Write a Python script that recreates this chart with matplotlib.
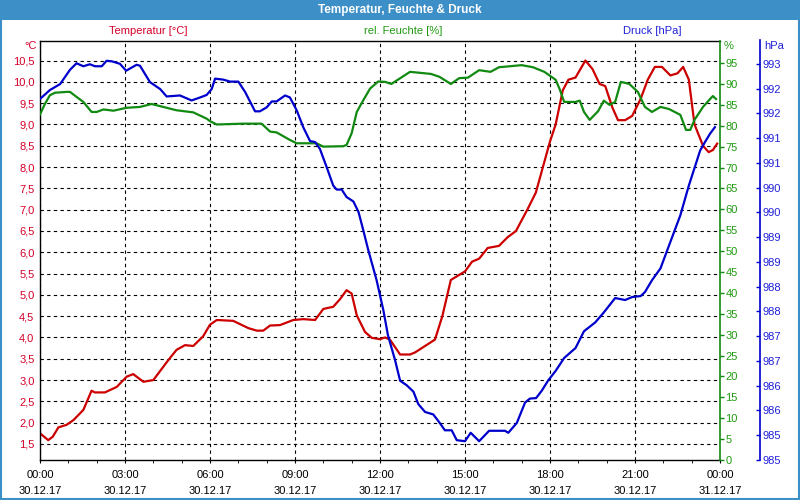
import matplotlib.pyplot as plt
from matplotlib.patches import Rectangle
from matplotlib.ticker import FixedLocator, MultipleLocator

plt.rcParams['font.family'] = ['Liberation Sans', 'DejaVu Sans']
plt.rcParams['font.size'] = 8

# --- data (hours since 30.12.17 00:00) ---
temp_hours = [0, 0.29, 0.45, 0.65, 0.94, 1.18, 1.53, 1.82, 1.94, 2.29, 2.71, 3.06, 3.29, 3.65, 4.0,
              4.53, 4.82, 5.12, 5.41, 5.76, 6.0, 6.24, 6.82, 7.35, 7.65, 7.88, 8.12, 8.47, 8.94, 9.29,
              9.71, 10.0, 10.35, 10.59, 10.82, 11.0, 11.18, 11.47, 11.71, 12.0, 12.18, 12.35, 12.71,
              13.06, 13.24, 13.59, 13.94, 14.2, 14.5, 14.75, 15.0, 15.25, 15.5, 15.8, 16.2, 16.5, 16.8,
              17.2, 17.5, 17.75, 18.0, 18.2, 18.45, 18.65, 18.9, 19.25, 19.5, 19.75, 19.95, 20.2, 20.4,
              20.65, 20.9, 21.2, 21.45, 21.7, 21.95, 22.25, 22.5, 22.7, 22.9, 23.1, 23.4, 23.6, 23.75, 23.9]
temperature = [1.75, 1.59, 1.67, 1.89, 1.95, 2.06, 2.30, 2.75, 2.71, 2.71, 2.84, 3.08, 3.14, 2.96, 3.00,
               3.47, 3.71, 3.82, 3.80, 4.03, 4.30, 4.41, 4.39, 4.22, 4.16, 4.16, 4.28, 4.29, 4.41, 4.43,
               4.41, 4.67, 4.72, 4.90, 5.11, 5.03, 4.52, 4.13, 3.99, 3.96, 4.0, 3.95, 3.6,
               3.6, 3.65, 3.8, 3.95, 4.5, 5.35, 5.45, 5.55, 5.78, 5.85, 6.1, 6.15, 6.35, 6.5,
               7.0, 7.4, 8.0, 8.6, 9.0, 9.8, 10.05, 10.1, 10.5, 10.3, 9.95, 9.9, 9.4, 9.1,
               9.1, 9.2, 9.6, 10.05, 10.35, 10.35, 10.15, 10.2, 10.35, 10.05, 9.0, 8.5, 8.35, 8.4, 8.55]

hum_hours = [0, 0.18, 0.35, 0.53, 0.94, 1.06, 1.29, 1.53, 1.82, 2.0, 2.24, 2.59, 3.06, 3.53, 3.94, 4.35,
             4.82, 5.41, 5.88, 6.0, 6.24, 7.18, 7.82, 8.12, 8.35, 8.82, 9.06, 9.76, 10.0, 10.7, 10.82,
             11.0, 11.18, 11.41, 11.65, 11.94, 12.18, 12.4, 13.06, 13.8, 14.1, 14.5, 14.8, 15.1, 15.5,
             15.9, 16.2, 17.0, 17.4, 17.8, 18.2, 18.35, 18.5, 18.9, 19.05, 19.2, 19.4, 19.7, 19.9, 20.1,
             20.3, 20.5, 20.8, 21.1, 21.35, 21.6, 21.9, 22.2, 22.6, 22.8, 22.95, 23.1, 23.4, 23.65, 23.75, 23.86]
humidity = [82.7, 85.3, 87.3, 87.9, 88.1, 88.1, 86.9, 85.7, 83.3, 83.3, 83.9, 83.6, 84.3, 84.5, 85.2, 84.5,
            83.7, 83.2, 81.7, 81.1, 80.3, 80.5, 80.5, 78.6, 78.4, 76.6, 75.8, 75.8, 75.0, 75.1, 75.4,
            78.2, 83.3, 86.1, 88.9, 90.6, 90.5, 90.0, 92.9, 92.4, 91.7, 90.0, 91.4, 91.5, 93.3,
            92.9, 94.0, 94.5, 94.0, 92.9, 91.0, 88.6, 85.7, 85.7, 86.0, 83.3, 81.4, 83.5, 86.0, 85.0,
            85.7, 90.5, 90.0, 88.1, 84.5, 83.3, 84.5, 84.0, 82.6, 79.0, 79.0, 81.4, 84.5, 86.4, 87.1, 86.4]

pres_hours = [0, 0.35, 0.71, 1.06, 1.29, 1.53, 1.76, 1.94, 2.18, 2.35, 2.53, 2.82, 3.04, 3.41, 3.53, 3.88,
              4.24, 4.47, 4.94, 5.35, 5.65, 5.88, 6.06, 6.18, 6.47, 6.71, 7.0, 7.24, 7.59, 7.76, 8.0,
              8.18, 8.35, 8.65, 8.82, 9.06, 9.29, 9.53, 9.71, 9.88, 10.12, 10.35, 10.47, 10.65, 10.82,
              11.06, 11.24, 11.41, 11.59, 11.88, 12.12, 12.28, 12.53, 12.71, 12.94, 13.18, 13.35, 13.59,
              13.88, 14.12, 14.29, 14.53, 14.71, 15.0, 15.2, 15.5, 15.85, 16.41, 16.53, 16.83, 17.12,
              17.29, 17.51, 17.71, 17.94, 18.2, 18.5, 18.9, 19.2, 19.6, 19.9, 20.3, 20.65, 20.9, 21.2,
              21.35, 21.6, 21.9, 22.2, 22.6, 22.9, 23.3, 23.47, 23.65, 23.82]
pressure = [991.89, 992.07, 992.19, 992.48, 992.61, 992.55, 992.59, 992.55, 992.55, 992.66, 992.65, 992.6,
            992.46, 992.58, 992.56, 992.23, 992.09, 991.94, 991.96, 991.86, 991.92, 991.97, 992.09, 992.3,
            992.28, 992.24, 992.24, 992.03, 991.64, 991.64, 991.72, 991.84, 991.84, 991.96, 991.92, 991.66,
            991.32, 991.04, 991.02, 990.88, 990.51, 990.14, 990.06, 990.06, 989.91, 989.82, 989.61, 989.24,
            988.83, 988.23, 987.62, 987.12, 986.62, 986.2, 986.11, 985.98, 985.73, 985.57, 985.52, 985.34,
            985.2, 985.2, 985.0, 984.98, 985.15, 984.98, 985.19, 985.19, 985.15, 985.35, 985.76, 985.84,
            985.85, 986.0, 986.21, 986.4, 986.66, 986.86, 987.2, 987.38, 987.58, 987.87, 987.83, 987.89,
            987.91, 987.99, 988.23, 988.47, 988.93, 989.54, 990.14, 990.85, 991.02, 991.19, 991.32]

x_ticks = [0, 3, 6, 9, 12, 15, 18, 21, 24]
x_labels = ['00:00\n30.12.17', '03:00\n30.12.17', '06:00\n30.12.17', '09:00\n30.12.17',
            '12:00\n30.12.17', '15:00\n30.12.17', '18:00\n30.12.17', '21:00\n30.12.17',
            '00:00\n31.12.17']
temp_ticks = [1.5 + 0.5 * i for i in range(19)]
temp_labels = ['%.1f' % t for t in temp_ticks]
temp_labels = [s.replace('.', ',') for s in temp_labels]
hum_ticks = list(range(0, 100, 5))
pres_ticks = [984.6 + 0.5 * i for i in range(17)]
pres_labels = ['985', '985', '986', '986', '987', '987', '988', '988', '989',
               '989', '990', '990', '991', '991', '992', '992', '993']

RED = '#cc0000'
RED_TXT = '#d4002a'
GREEN = '#118a11'
GREEN_TXT = '#1f9a10'
BLUE = '#0000cc'
BLUE_TXT = '#2020d8'
FRAME = '#3d8fc8'

fig = plt.figure(figsize=(8, 5), dpi=100)
fig.patch.set_facecolor('white')

ax = fig.add_axes([0.05, 0.08, 0.85, 0.839])
ax_h = ax.twinx()
ax_p = ax.twinx()

# grid and temperature axis
ax.set_xlim(0, 24)
ax.set_ylim(1.124, 10.97)
ax.xaxis.set_major_locator(FixedLocator(x_ticks))
ax.xaxis.set_minor_locator(MultipleLocator(1))
ax.set_xticklabels(x_labels, linespacing=1.75)
ax.tick_params(axis='x', which='both', length=2.5, color='black', labelsize=8, pad=4.5)
ax.yaxis.set_major_locator(FixedLocator(temp_ticks))
ax.set_yticklabels(temp_labels)
ax.tick_params(axis='y', length=0, labelcolor=RED_TXT, labelsize=8, pad=4)
ax.grid(True, which='major', color='black', linestyle=(0, (3, 3)), linewidth=0.8)
for s in ['left', 'top', 'bottom']:
    ax.spines[s].set_color('black')
    ax.spines[s].set_linewidth(1.0)
ax.spines['right'].set_visible(False)

# humidity axis
ax_h.set_ylim(0, 100.4)
ax_h.yaxis.set_major_locator(FixedLocator(hum_ticks))
ax_h.tick_params(axis='y', length=3, width=1, color=GREEN, labelcolor=GREEN_TXT, labelsize=8, pad=1)
ax_h.spines['right'].set_color(GREEN)
ax_h.spines['right'].set_linewidth(1.2)
for s in ['left', 'top', 'bottom']:
    ax_h.spines[s].set_visible(False)

# pressure axis
ax_p.set_ylim(984.6, 993.07)
ax_p.spines['right'].set_position(('axes', 720 / 680))
ax_p.spines['right'].set_color(BLUE)
ax_p.spines['right'].set_linewidth(1.2)
for s in ['left', 'top', 'bottom']:
    ax_p.spines[s].set_visible(False)
ax_p.yaxis.set_major_locator(FixedLocator(pres_ticks))
ax_p.set_yticklabels(pres_labels)
ax_p.tick_params(axis='y', direction='in', length=3, width=1, color=BLUE, labelcolor=BLUE_TXT,
                 labelsize=8, pad=2)

ax.plot(temp_hours, temperature, color=RED, linewidth=1.6)
ax_h.plot(hum_hours, humidity, color=GREEN, linewidth=1.6)
ax_p.plot(pres_hours, pressure, color=BLUE, linewidth=1.6)

# headings
fig.text(148 / 800, 1 - 31 / 500, 'Temperatur [°C]', color=RED_TXT, ha='center', va='center', fontsize=8)
fig.text(403 / 800, 1 - 31 / 500, 'rel. Feuchte [%]', color=GREEN_TXT, ha='center', va='center', fontsize=8)
fig.text(652 / 800, 1 - 31 / 500, 'Druck [hPa]', color=BLUE_TXT, ha='center', va='center', fontsize=8)
fig.text(37 / 800, 1 - 46 / 500, '°C', color=RED_TXT, ha='right', va='center', fontsize=8)
fig.text(724 / 800, 1 - 46 / 500, '%', color=GREEN_TXT, ha='left', va='center', fontsize=8)
fig.text(764 / 800, 1 - 46 / 500, 'hPa', color=BLUE_TXT, ha='left', va='center', fontsize=8)

# title bar and frame
fig.add_artist(Rectangle((0, 1 - 20 / 500), 1, 20 / 500, transform=fig.transFigure,
                         facecolor=FRAME, edgecolor='none'))
fig.add_artist(Rectangle((0.001, 0.002), 0.998, 0.996, transform=fig.transFigure,
                         facecolor='none', edgecolor=FRAME, linewidth=1.5))
fig.text(0.5, 1 - 10 / 500, 'Temperatur, Feuchte & Druck', color='white', ha='center', va='center',
         fontsize=8.5, fontweight='bold')

fig.savefig('out.png', dpi=100)
